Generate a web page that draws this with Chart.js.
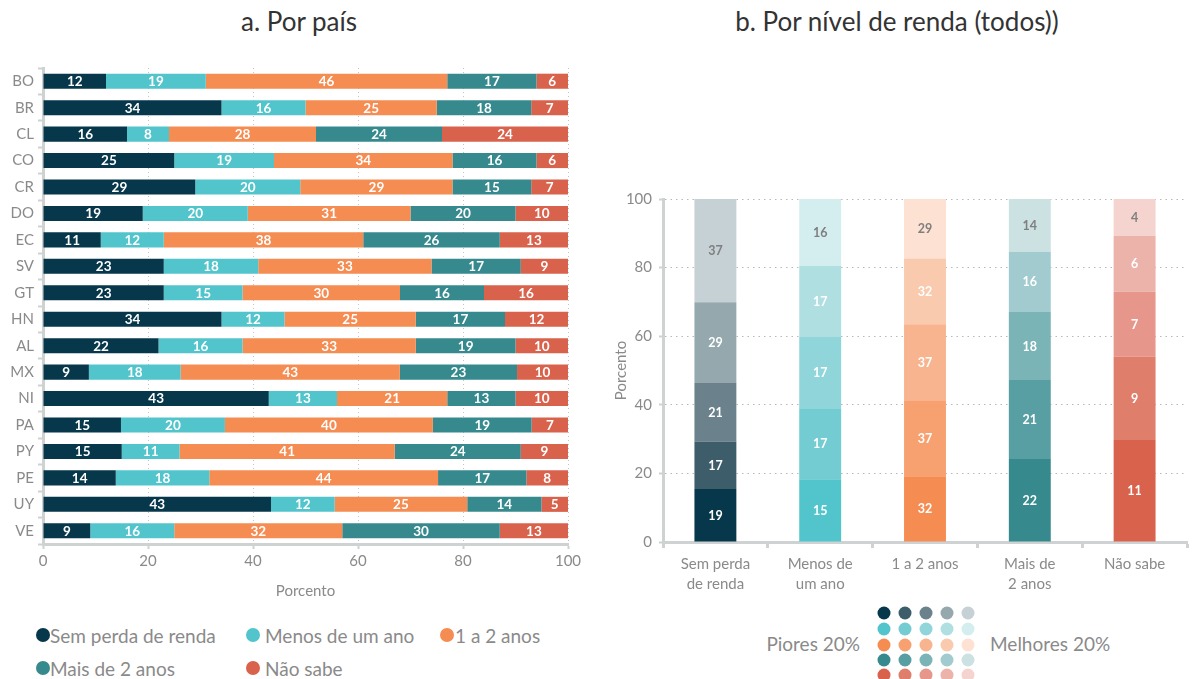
<!DOCTYPE html>
<html><head><meta charset="utf-8">
<script src="https://cdn.jsdelivr.net/npm/chart.js@4.4.1/dist/chart.umd.min.js"></script>
<style>
body{margin:0;width:1195px;height:679px;overflow:hidden;background:#fff;font-family:Lato,"Open Sans",sans-serif;position:relative}
.t{position:absolute;top:5px;font-size:26px;color:#333;white-space:nowrap;transform:translateX(-50%)}
canvas{position:absolute}
.leg{position:absolute;font-size:19px;color:#8a8a8a;white-space:nowrap;transform:translateY(-50%)}
.dot{position:absolute;width:13px;height:13px;border-radius:50%;transform:translate(-50%,-50%)}
</style></head>
<body>
<div class="t" style="left:299px">a. Por país</div>
<div class="t" style="left:897px">b. Por nível de renda (todos))</div>
<canvas id="c1" width="600" height="610" style="left:0;top:0"></canvas>
<canvas id="c2" width="595" height="600" style="left:600px;top:0"></canvas>
<div id="legends"></div>
<script>
// ---- Data: panel a (by country) ----
const countries = ['BO','BR','CL','CO','CR','DO','EC','SV','GT','HN','AL','MX','NI','PA','PY','PE','UY','VE'];
const semPerda   = [12,34,16,25,29,19,11,23,23,34,22, 9,43,15,15,14,43, 9];
const menosUmAno = [19,16, 8,19,20,20,12,18,15,12,16,18,13,20,11,18,12,16];
const umADois    = [46,25,28,34,29,31,38,33,30,25,33,43,21,40,41,44,25,32];
const maisDois   = [17,18,24,16,15,20,26,17,16,17,19,23,13,19,24,17,14,30];
const naoSabe    = [ 6, 7,24, 6, 7,10,13, 9,16,12,10,10,10, 7, 9, 8, 5,13];
const seriesNames = ['Sem perda de renda','Menos de um ano','1 a 2 anos','Mais de 2 anos','Não sabe'];
const xTicks = [0,20,40,60,80,100];

// ---- Data: panel b (by income quintile, worst -> best) ----
const incomeCats = [['Sem perda','de renda'],['Menos de','um ano'],['1 a 2 anos'],['Mais de','2 anos'],['Não sabe']];
const qSemPerda   = [19,17,21,29,37];
const qMenosUmAno = [15,17,17,17,16];
const qUmADois    = [32,37,37,32,29];
const qMaisDois   = [22,21,18,16,14];
const qNaoSabe    = [11, 9, 7, 6, 4];
const yTicks = [0,20,40,60,80,100];

// ---- Colours ----
const shades = [
  ['#06374a','#3e5d6b','#6b818c','#95a8ae','#c6d1d5'],
  ['#52c5cc','#72ccd1','#8fd5da','#b0dfe2','#d4eef0'],
  ['#f58c52','#f7a171','#f8b48f','#f9caad','#fde1d3'],
  ['#368a8e','#589fa4','#7bb4b7','#a1cbce','#cbe1e2'],
  ['#d9624c','#e07e6c','#e6968a','#ecb3aa','#f5d4cf']
];
const GRAY = '#8a8a8a', AX = '#cfd2d3';
const FONT = 'Lato, "Open Sans", sans-serif';

// label plugin
const labelPlugin = {
  id:'segLabels',
  afterDatasetsDraw(chart){
    const ctx = chart.ctx;
    const horiz = chart.options.indexAxis === 'y';
    chart.data.datasets.forEach((ds,di)=>{
      const meta = chart.getDatasetMeta(di);
      meta.data.forEach((el,i)=>{
        const p = el.getProps(['x','y','base'],true);
        const x = horiz ? (p.x+p.base)/2 : p.x;
        const y = horiz ? p.y : (p.y+p.base)/2;
        ctx.save();
        ctx.font = 'bold ' + (horiz?13.5:12.5) + 'px ' + FONT;
        ctx.fillStyle = ds.labelColor || '#fff';
        ctx.textAlign='center'; ctx.textBaseline='middle';
        ctx.fillText(String(ds.rawLabels[i]), x, y+0.5);
        ctx.restore();
      });
    });
  }
};

// Panel a
const rowsA = [semPerda,menosUmAno,umADois,maisDois,naoSabe];
const rowSum = countries.map((_,i)=>rowsA.reduce((s,a)=>s+a[i],0));
const dsA = rowsA.map((arr,k)=>({
  label: seriesNames[k],
  data: arr.map((v,i)=>v/rowSum[i]*100),
  rawLabels: arr,
  backgroundColor: shades[k][0],
  barPercentage:0.57, categoryPercentage:1
}));
new Chart(document.getElementById('c1'),{
  type:'bar',
  data:{labels:countries,datasets:dsA},
  options:{
    indexAxis:'y', responsive:false, animation:false, devicePixelRatio:1,
    layout:{padding:{top:68,right:32,left:0,bottom:0}},
    plugins:{legend:{display:false},tooltip:{enabled:false}},
    scales:{
      x:{stacked:true,min:0,max:100,
        afterBuildTicks(s){s.ticks = xTicks.map(v=>({value:v}));},
        afterFit(s){s.height=66;},
        ticks:{color:GRAY,font:{size:15,family:FONT},padding:3},
        title:{display:true,text:'Porcento',color:GRAY,font:{size:15,family:FONT},padding:{top:4,bottom:10}},
        grid:{color:'#c4c4c4',lineWidth:1,tickLength:5,tickColor:AX,tickWidth:2,tickBorderDash:[]},
        border:{color:AX,width:3,dash:[1,3]}
      },
      y:{stacked:true,
        afterFit(s){s.width=43;},
        ticks:{color:GRAY,font:{size:15,family:FONT},padding:4},
        grid:{drawOnChartArea:false,tickLength:5,tickColor:AX,tickWidth:2},
        border:{color:AX,width:3}
      }
    }
  },
  plugins:[labelPlugin]
});

// Panel b
const catsB = [qSemPerda,qMenosUmAno,qUmADois,qMaisDois,qNaoSabe];
const catSum = catsB.map(a=>a.reduce((s,v)=>s+v,0));
const dsB = [0,1,2,3,4].map(q=>({
  label:'Q'+(q+1),
  data: catsB.map((a,j)=>a[q]/catSum[j]*100),
  rawLabels: catsB.map(a=>a[q]),
  backgroundColor: catsB.map((a,j)=>shades[j][q]),
  labelColor: q===4 ? '#7f7f7f' : '#fff',
  barPercentage:0.4, categoryPercentage:1
}));
new Chart(document.getElementById('c2'),{
  type:'bar',
  data:{labels:incomeCats,datasets:dsB},
  options:{
    responsive:false, animation:false, devicePixelRatio:1,
    layout:{padding:{top:199,right:8,left:0,bottom:0}},
    plugins:{legend:{display:false},tooltip:{enabled:false}},
    scales:{
      x:{stacked:true,
        afterFit(s){s.height=58;},
        ticks:{color:GRAY,font:{size:15,family:FONT,lineHeight:1.33},padding:6},
        grid:{drawOnChartArea:false,tickLength:6,tickColor:AX,tickWidth:3},
        border:{color:AX,width:3}
      },
      y:{stacked:true,min:0,max:100,
        afterBuildTicks(s){s.ticks = yTicks.map(v=>({value:v}));},
        afterFit(s){s.width=63;},
        ticks:{color:GRAY,font:{size:15,family:FONT},padding:7},
        title:{display:true,text:'Porcento',color:GRAY,font:{size:15,family:FONT},padding:{top:12,bottom:4}},
        grid:{color:'#b8b8b8',lineWidth:1,tickLength:4,tickColor:AX,tickWidth:2,tickBorderDash:[]},
        border:{color:AX,width:3,dash:[1.5,4]}
      }
    }
  },
  plugins:[labelPlugin]
});

// Legends (HTML)
const L = document.getElementById('legends');
function add(html){L.insertAdjacentHTML('beforeend',html);}
const legPos = [[43,50,635],[253,265,635],[447,455,635],[43,50,668],[253,265,668]];
seriesNames.forEach((n,k)=>{
  const [cx,tx,cy] = legPos[k];
  add(`<div class="dot" style="left:${cx}px;top:${cy}px;width:14px;height:14px;background:${shades[k][0]}"></div>`);
  add(`<div class="leg" style="left:${tx}px;top:${cy}px">${n}</div>`);
});
const dx=[884,905,926,947,968], dy=[613,629,645,660,675];
shades.forEach((row,r)=>row.forEach((c,q)=>{
  add(`<div class="dot" style="left:${dx[q]}px;top:${dy[r]}px;background:${c}"></div>`);
}));
add(`<div class="leg" style="right:${1195-860}px;top:643px">Piores 20%</div>`);
add(`<div class="leg" style="left:990px;top:643px">Melhores 20%</div>`);
</script>
</body></html>
